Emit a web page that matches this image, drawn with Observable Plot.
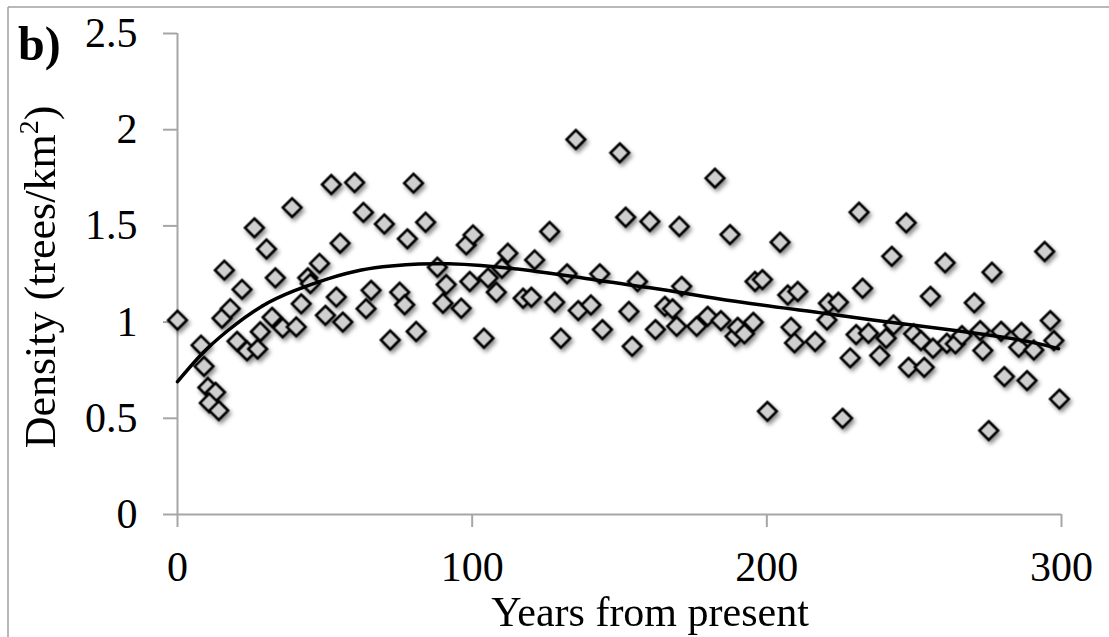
<!DOCTYPE html>
<html>
<head>
<meta charset="utf-8">
<script src="https://cdn.jsdelivr.net/npm/d3@7"></script>
<script src="https://cdn.jsdelivr.net/npm/@observablehq/plot@0.6"></script>
<style>
  body { margin: 0; background: #fff; }
  svg { display: block; }
</style>
</head>
<body>
<div id="chart"></div>
<script>
// Observed tree densities (x = years from present, y = trees/km²)
const years = [
  0, 8, 9, 10.3, 12.9, 10.8, 14, 15.9, 15.1, 17.9,
  21.9, 20.2, 23.6, 27.2, 28.1, 26.1, 30.2, 33.2, 32.1, 35.7,
  40.3, 38.9, 42, 44.2, 45.1, 48.2, 50.2, 52.2, 55.2, 53.9,
  56.1, 60.1, 63.1, 70.2, 65.7, 64, 72.2, 75.4, 77.1, 78,
  80.1, 81, 84.2, 88.2, 91.2, 90.1, 96.3, 98, 100.3, 99.2,
  104, 105.4, 108.2, 110.1, 112.1, 117.3, 120.1, 121.2, 126.3, 128,
  130.1, 132.2, 135.2, 136, 140.3, 143.3, 144.2, 150.1, 152.1, 153.2,
  154.3, 156.1, 160.3, 162.2, 165.4, 168, 169.4, 170.3, 171.1, 176.2,
  179.9, 182.4, 184.4, 187.5, 189.2, 190.1, 192.4, 195.4, 196, 198.5,
  200.2, 204.5, 207.1, 208.2, 209.4, 210.5, 216.4, 220.4, 220.9, 224.3,
  225.7, 228.3, 230.3, 231.3, 232.5, 234.5, 238.3, 240.5, 242.4, 243,
  247.3, 248.1, 249.8, 252.3, 253.4, 255.5, 256.4, 260.5, 261.1, 264,
  266.2, 270.4, 272.4, 273.3, 275.3, 276.4, 279.5, 280.6, 285.5, 286.4,
  288.3, 290.6, 294.3, 296.2, 297.4, 299.3
];
const density = [
  1.01, 0.88, 0.77, 0.66, 0.635, 0.58, 0.54, 1.27, 1.02, 1.07,
  1.17, 0.90, 0.85, 0.86, 0.95, 1.49, 1.38, 1.23, 1.025, 0.97,
  0.975, 1.595, 1.095, 1.23, 1.20, 1.305, 1.035, 1.715, 1.41, 1.13,
  1.00, 1.725, 1.57, 1.51, 1.165, 1.07, 0.907, 1.155, 1.09, 1.433,
  1.722, 0.951, 1.519, 1.285, 1.195, 1.098, 1.072, 1.401, 1.453, 1.211,
  0.916, 1.23, 1.155, 1.28, 1.358, 1.124, 1.129, 1.323, 1.471, 1.103,
  0.916, 1.251, 1.949, 1.06, 1.089, 1.251, 0.961, 1.88, 1.545, 1.055,
  0.874, 1.211, 1.523, 0.961, 1.082, 1.069, 0.978, 1.497, 1.186, 0.978,
  1.03, 1.748, 1.008, 1.455, 0.926, 0.973, 0.939, 0.999, 1.211, 1.221,
  0.536, 1.415, 1.141, 0.973, 0.892, 1.159, 0.899, 1.011, 1.098, 1.103,
  0.50, 0.814, 0.935, 1.571, 1.176, 0.942, 0.826, 0.916, 1.342, 0.985,
  1.516, 0.765, 0.939, 0.904, 0.765, 1.134, 0.864, 1.308, 0.89, 0.887,
  0.93, 1.10, 0.956, 0.852, 0.436, 1.259, 0.952, 0.717, 0.869, 0.947,
  0.696, 0.855, 1.367, 1.008, 0.904, 0.60
];

// Trend curve
const trendYears   = [0, 8, 17, 28.4, 39.7, 51, 62.4, 72.5, 82, 92, 103, 114.4, 125.8, 137.1, 147.3, 166.6, 189.2, 220, 241.3, 264, 286.6, 299];
const trendDensity = [0.69, 0.83, 0.955, 1.08, 1.163, 1.225, 1.271, 1.292, 1.302, 1.303, 1.294, 1.277, 1.255, 1.231, 1.207, 1.164, 1.108, 1.045, 1.0, 0.956, 0.905, 0.862];

const xTicks = [0, 100, 200, 300];
const yTicks = [0, 0.5, 1, 1.5, 2, 2.5];

const xLabel = "Years from present";
const yLabelMain = "Density (trees/km";
const yLabelSup = "2";
const yLabelEnd = ")";
const panelLabel = "b)";

const points = years.map((x, i) => ({x, y: density[i]}));
const trend = trendYears.map((x, i) => ({x, y: trendDensity[i]}));

const W = 1109, H = 637;
const axisGray = "#a6a6a6";

const plot = Plot.plot({
  width: W,
  height: H,
  marginLeft: 177,
  marginRight: 48,
  marginTop: 33,
  marginBottom: 123,
  style: {fontFamily: '"Liberation Serif", serif', fontSize: "42px", background: "white", overflow: "visible"},
  x: {domain: [0, 300], ticks: xTicks, label: null},
  y: {domain: [0, 2.5], ticks: yTicks, label: null},
  marks: [
    Plot.ruleY([0], {stroke: axisGray, strokeWidth: 2}),
    Plot.ruleX([0], {stroke: axisGray, strokeWidth: 2}),
    Plot.axisX({ticks: xTicks, tickFormat: d => String(d), tickSize: 13, tickPadding: 24, stroke: axisGray, strokeWidth: 2, fill: "black", fontSize: 42, label: null}),
    Plot.axisY({ticks: yTicks, tickFormat: d => String(d), tickSize: 14, tickPadding: 26, stroke: axisGray, strokeWidth: 2, fill: "black", fontSize: 42, label: null}),
    Plot.dot(points, {x: "x", y: "y", symbol: "diamond2", r: 8.4, fill: "#cfcfcf", stroke: "black", strokeWidth: 2.6}),
    Plot.line(trend, {x: "x", y: "y", curve: "natural", stroke: "black", strokeWidth: 3.5})
  ]
});

document.getElementById("chart").appendChild(plot);

const svg = d3.select(plot);
svg.selectAll('g[aria-label="dot"]').style("filter", "drop-shadow(2px 3px 2px rgba(0,0,0,0.45))");

// Frame (top + left)
svg.append("line").attr("x1", 8).attr("y1", 7).attr("x2", W).attr("y2", 7)
  .attr("stroke", "#a0a0a0").attr("stroke-width", 1.5);
svg.append("line").attr("x1", 8).attr("y1", 7).attr("x2", 8).attr("y2", H)
  .attr("stroke", "#a0a0a0").attr("stroke-width", 1.5);

// Axis titles
svg.append("text")
  .attr("x", 650).attr("y", 626)
  .attr("text-anchor", "middle")
  .style("font-size", "42px").attr("fill", "black")
  .text(xLabel);

const yl = svg.append("text")
  .attr("transform", "translate(55,277) rotate(-90)")
  .attr("text-anchor", "middle")
  .style("font-size", "44px").attr("fill", "black");
yl.append("tspan").text(yLabelMain);
yl.append("tspan").attr("dy", -17).style("font-size", "28px").text(yLabelSup);
yl.append("tspan").attr("dy", 17).text(yLabelEnd);

svg.append("text")
  .attr("x", 18).attr("y", 60)
  .attr("text-anchor", "start")
  .style("font-size", "48px").style("font-weight", "bold").attr("fill", "black")
  .text(panelLabel);
</script>
</body>
</html>
